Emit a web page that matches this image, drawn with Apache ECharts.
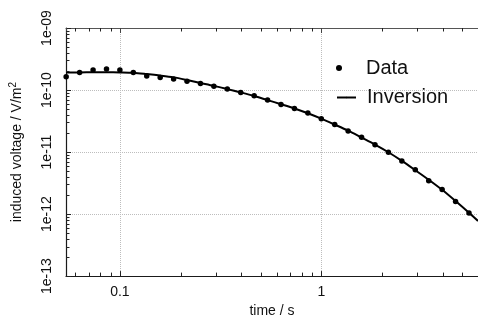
<!DOCTYPE html>
<html>
<head>
<meta charset="utf-8">
<script src="https://cdn.jsdelivr.net/npm/echarts@6/dist/echarts.min.js"></script>
<style>
  html, body { margin: 0; padding: 0; background: #fff; }
  #chart { width: 478px; height: 323px; }
</style>
</head>
<body>
<div id="chart"></div>
<script>
// Transient decay: measured induced voltage and the inversion model response
const times = [0.0541, 0.0631, 0.0736, 0.0858, 0.1, 0.1166, 0.1359, 0.1585, 0.1848, 0.2154,
  0.2512, 0.2929, 0.3415, 0.3981, 0.4642, 0.5412, 0.631, 0.7356, 0.8577, 1.0,
  1.166, 1.359, 1.585, 1.848, 2.154, 2.512, 2.929, 3.415, 3.981, 4.642, 5.412];
const dataValues = [1.64e-10, 1.91e-10, 2.11e-10, 2.19e-10, 2.11e-10, 1.91e-10, 1.69e-10, 1.59e-10, 1.51e-10, 1.39e-10,
  1.28e-10, 1.15e-10, 1.035e-10, 9.15e-11, 8.11e-11, 6.93e-11, 5.85e-11, 5.05e-11, 4.26e-11, 3.45e-11,
  2.79e-11, 2.19e-11, 1.74e-11, 1.31e-11, 9.93e-12, 7.16e-12, 5.16e-12, 3.45e-12, 2.49e-12, 1.59e-12, 1.04e-12];

const inversionTimes = [0.0541, 0.0631, 0.0736, 0.0858, 0.1, 0.1166, 0.1359, 0.1585, 0.1848, 0.2154,
  0.2512, 0.2929, 0.3415, 0.3981, 0.4642, 0.5412, 0.631, 0.7356, 0.8577, 1.0,
  1.166, 1.359, 1.585, 1.848, 2.154, 2.512, 2.929, 3.415, 3.981, 4.642, 5.412, 6.0];
const inversionValues = [1.908e-10, 1.92e-10, 1.93e-10, 1.93e-10, 1.92e-10, 1.895e-10, 1.807e-10, 1.71e-10, 1.60e-10, 1.45e-10,
  1.30e-10, 1.167e-10, 1.035e-10, 9.15e-11, 8.02e-11, 6.88e-11, 5.91e-11, 5.05e-11, 4.22e-11, 3.45e-11,
  2.77e-11, 2.21e-11, 1.71e-11, 1.32e-11, 9.93e-12, 7.21e-12, 5.10e-12, 3.58e-12, 2.46e-12, 1.62e-12, 1.05e-12, 7.74e-13];

// Axis ticks and labels
const xTicks = [0.1, 1];
const xTickLabels = ['0.1', '1'];
const yTicks = [1e-13, 1e-12, 1e-11, 1e-10, 1e-9];
const yTickLabels = ['1e-13', '1e-12', '1e-11', '1e-10', '1e-09'];
const xMinorTicks = [0.06, 0.07, 0.08, 0.09, 0.2, 0.3, 0.4, 0.5, 0.6, 0.7, 0.8, 0.9, 2, 3, 4, 5];
const yMinorTicks = [2e-13, 3e-13, 4e-13, 5e-13, 6e-13, 7e-13, 8e-13, 9e-13,
  2e-12, 3e-12, 4e-12, 5e-12, 6e-12, 7e-12, 8e-12, 9e-12,
  2e-11, 3e-11, 4e-11, 5e-11, 6e-11, 7e-11, 8e-11, 9e-11,
  2e-10, 3e-10, 4e-10, 5e-10, 6e-10, 7e-10, 8e-10, 9e-10];

const X_MIN = 0.054, X_MAX = 6.0, Y_MIN = 1e-13, Y_MAX = 1e-9;
const FONT = 'Liberation Sans, Arial, Helvetica, sans-serif';
const INK = '#111';

function tickLabel(value, ticks, labels) {
  const lv = Math.log10(value);
  for (let i = 0; i < ticks.length; i++) {
    if (Math.abs(lv - Math.log10(ticks[i])) < 1e-6) return labels[i];
  }
  return '';
}

const chart = echarts.init(document.getElementById('chart'), null, { renderer: 'canvas' });

const tickStyle = { stroke: '#222', lineWidth: 1 };

chart.setOption({
  animation: false,
  backgroundColor: '#fff',
  grid: { left: 65, right: -2, top: 28, bottom: 42, containLabel: false },
  xAxis: [
    {
      type: 'log', logBase: 10, min: X_MIN, max: X_MAX, position: 'bottom',
      axisLine: { show: true, lineStyle: { color: '#1a1a1a', width: 1.2 } },
      axisTick: { show: true, inside: true, length: 5, lineStyle: { color: '#222' } },
      axisLabel: {
        show: true, margin: 9, fontSize: 14, color: INK, fontFamily: FONT,
        showMinLabel: false, showMaxLabel: false,
        formatter: v => tickLabel(v, xTicks, xTickLabels)
      },
      splitLine: { show: true, lineStyle: { type: 'dotted', color: '#bdbdbd', width: 1 } },
      minorTick: { show: false },
      name: 'time / s', nameLocation: 'middle', nameGap: 26,
      nameTextStyle: { fontSize: 14, color: INK, fontFamily: FONT }
    },
    {
      type: 'log', logBase: 10, min: X_MIN, max: X_MAX, position: 'top',
      axisLine: { show: true, lineStyle: { color: '#555', width: 1 } },
      axisTick: { show: true, inside: true, length: 5, lineStyle: { color: '#444' } },
      axisLabel: { show: false },
      splitLine: { show: false }
    }
  ],
  yAxis: {
    type: 'log', logBase: 10, min: Y_MIN, max: Y_MAX,
    axisLine: { show: true, lineStyle: { color: '#1a1a1a', width: 1.2 } },
    axisTick: { show: true, inside: true, length: 5, lineStyle: { color: '#222' } },
    axisLabel: {
      show: true, rotate: 90, margin: 12, fontSize: 14, color: INK, fontFamily: FONT,
      formatter: v => tickLabel(v, yTicks, yTickLabels)
    },
    splitLine: { show: true, lineStyle: { type: 'dotted', color: '#bdbdbd', width: 1 } },
    name: '{t|induced voltage / V/m}{s|2}',
    nameLocation: 'middle', nameRotate: 90, nameGap: 40,
    nameTextStyle: {
      fontFamily: FONT, color: INK,
      rich: {
        t: { fontSize: 14, lineHeight: 18, fontFamily: FONT, color: INK },
        s: { fontSize: 10, lineHeight: 10, verticalAlign: 'top', fontFamily: FONT, color: INK }
      }
    }
  },
  legend: [
    {
      data: [{ name: 'Data', icon: 'circle' }],
      left: 331, top: 53, orient: 'vertical',
      itemWidth: 6, itemHeight: 6, selectedMode: false,
      itemStyle: { opacity: 1 },
      textStyle: { fontSize: 20, color: INK, fontFamily: FONT, padding: [0, 0, 0, 19] }
    },
    {
      data: [{ name: 'Inversion' }],
      left: 331, top: 82.5, orient: 'vertical',
      itemWidth: 19, itemHeight: 2, selectedMode: false,
      textStyle: { fontSize: 20, color: INK, fontFamily: FONT, padding: [0, 0, 0, 6] }
    }
  ],
  series: [
    {
      name: 'Inversion', type: 'line',
      data: inversionTimes.map((t, i) => [t, inversionValues[i]]),
      showSymbol: false, symbol: 'none', smooth: 0.3,
      lineStyle: { color: '#000', width: 2 }, itemStyle: { color: '#000' },
      z: 3
    },
    {
      name: 'Data', type: 'scatter',
      data: times.map((t, i) => [t, dataValues[i]]),
      symbol: 'circle', symbolSize: 5.5,
      itemStyle: { color: '#000', opacity: 1 },
      z: 4
    },
    {
      // minor ticks on the bottom and top time axes
      type: 'custom', silent: true, clip: false, z: 5,
      data: xMinorTicks.map(v => [v, Y_MIN]),
      encode: { x: 0, y: 1 },
      renderItem: (params, api) => {
        const cs = params.coordSys;
        const x = Math.round(api.coord([api.value(0), Y_MIN])[0]) + 0.5;
        const yb = cs.y + cs.height, yt = cs.y;
        return {
          type: 'group',
          children: [
            { type: 'line', shape: { x1: x, y1: yb, x2: x, y2: yb - 3.5 }, style: tickStyle },
            { type: 'line', shape: { x1: x, y1: yt, x2: x, y2: yt + 3.5 }, style: tickStyle }
          ]
        };
      }
    },
    {
      // minor ticks on the voltage axis
      type: 'custom', silent: true, clip: false, z: 5,
      data: yMinorTicks.map(v => [X_MIN, v]),
      encode: { x: 0, y: 1 },
      renderItem: (params, api) => {
        const cs = params.coordSys;
        const y = Math.round(api.coord([X_MIN, api.value(1)])[1]) + 0.5;
        return {
          type: 'line',
          shape: { x1: cs.x, y1: y, x2: cs.x + 3.5, y2: y },
          style: tickStyle
        };
      }
    }
  ]
});
</script>
</body>
</html>
